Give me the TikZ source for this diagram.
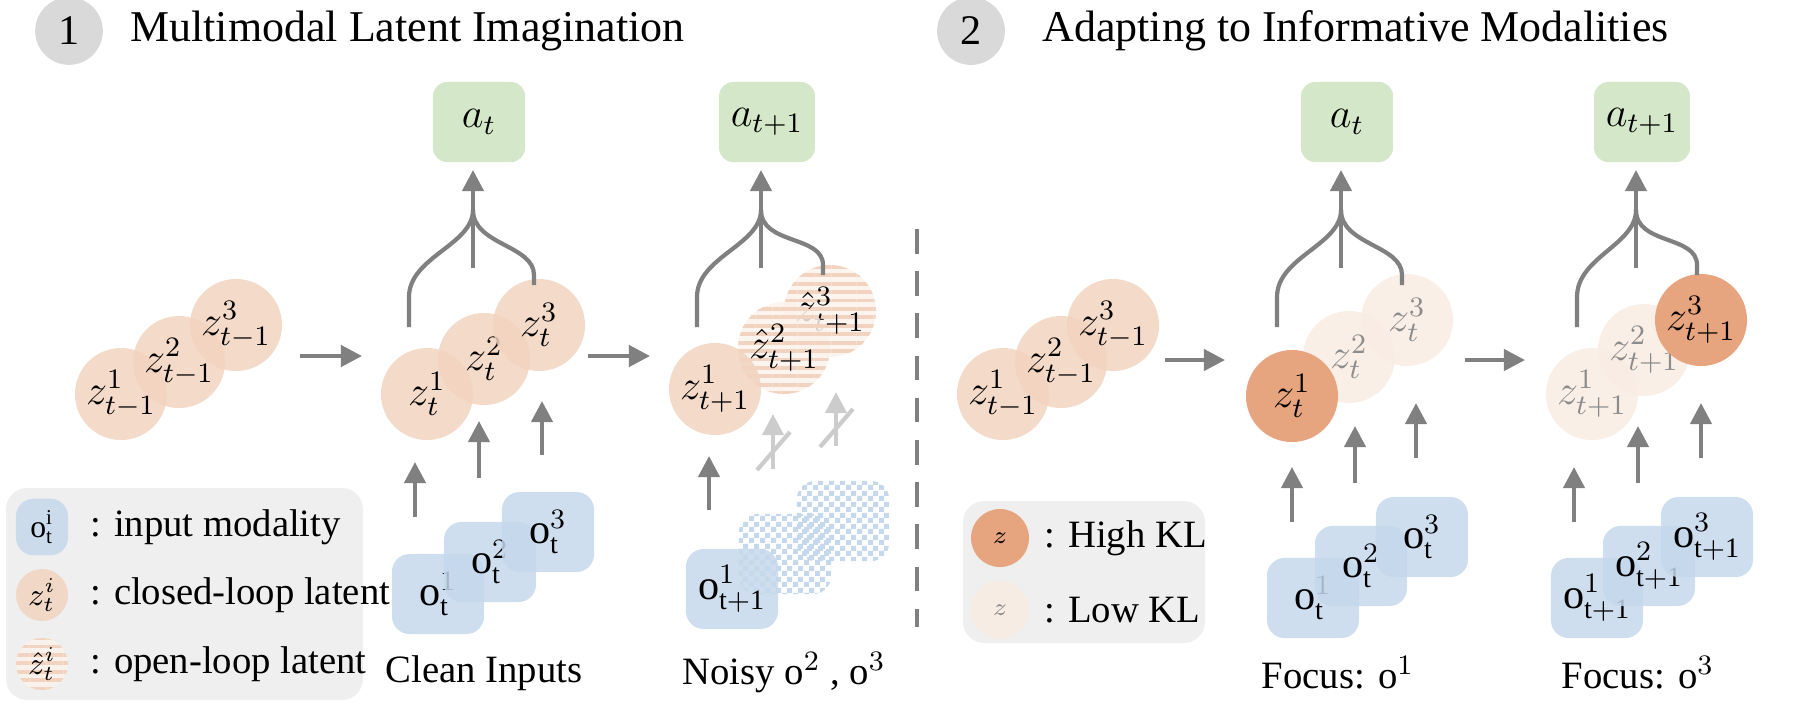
\documentclass[tikz,border=0pt]{standalone}
\usepackage{fontspec}
\setmainfont{Liberation Serif}
\usetikzlibrary{arrows.meta,patterns,patterns.meta}
\definecolor{peach}{HTML}{F2D3BF}
\definecolor{peachdark}{HTML}{E6A47F}
\definecolor{peachlight}{HTML}{F8ECE3}
\definecolor{obsblue}{HTML}{C5D8EC}
\definecolor{actgreen}{HTML}{D4E7C8}
\definecolor{arrgray}{HTML}{808080}
\definecolor{legbg}{HTML}{EFEFEF}
% small checker for noisy inputs
\pgfdeclarepatternformonly{finechecker}{\pgfpointorigin}{\pgfpoint{3pt}{3pt}}{\pgfpoint{3pt}{3pt}}{%
\pgfpathrectangle{\pgfpointorigin}{\pgfpoint{1.5pt}{1.5pt}}%
\pgfpathrectangle{\pgfpoint{1.5pt}{1.5pt}}{\pgfpoint{1.5pt}{1.5pt}}%
\pgfusepath{fill}}
% fan of three latents into one action
\newcommand\actfan[5]{%
\draw[arrgray, line width=1.2pt] (#2,#4) -- ++(0,-30) .. controls ++(0,-40) and (#1,245) .. (#1,210);
\draw[arrgray, line width=1.2pt] (#3,#5) -- ++(0,-10) .. controls ++(0,-30) and (#1,245) .. (#1,210);
\draw[upar] (#1,268) -- (#1,170);
}
\begin{document}
\begin{tikzpicture}[x=0.01cm,y=-0.01cm,
  lat/.style={circle, minimum size=0.92cm, inner sep=0pt, fill=peach, fill opacity=0.85, text opacity=1, font=\large},
  hatch/.style={lat, fill=peach!30, postaction={pattern={Lines[angle=0,distance=2.4pt,line width=1.1pt]}, pattern color=peach}},
  hikl/.style={lat, fill=peachdark, fill opacity=1},
  lokl/.style={lat, fill=peachlight, text=black!45},
  obs/.style={rounded corners=5pt, minimum width=0.92cm, minimum height=0.8cm, fill=obsblue, fill opacity=0.85, text opacity=1, font=\large},
  noisy/.style={obs, fill=white, fill opacity=1, pattern=finechecker, pattern color=obsblue},
  act/.style={rounded corners=4pt, minimum width=0.92cm, minimum height=0.8cm, fill=actgreen, font=\large},
  upar/.style={arrgray, line width=1.2pt, -{Triangle[length=6pt,width=6pt]}},
  crossar/.style={upar, arrgray!40},
  num/.style={circle, fill=black!15, minimum size=0.56cm, font=\large},
  caption/.style={font=\fontsize{11}{13}\selectfont}]
  \useasboundingbox (0,0) rectangle (1800,714);

  %% headers
  \node[num] (n1) at (69,31) {1};
  \node[anchor=west, font=\fontsize{12.5}{15}\selectfont] (t1) at (118,31) {Multimodal Latent Imagination};
  \node[num] (n2) at (971,31) {2};
  \node[anchor=west, font=\fontsize{12.5}{15}\selectfont] (t2) at (1030,31) {Adapting to Informative Modalities};
  \draw[arrgray, line width=1.2pt, dash pattern=on 7pt off 5pt] (917,229) -- (917,627);

  %% part 1, step t-1
  \node[lat] (a1) at (121,394) {$z^1_{t-1}$};
  \node[lat] (a2) at (179,362) {$z^2_{t-1}$};
  \node[lat] (a3) at (236,325) {$z^3_{t-1}$};
  \draw[upar] (300,356) -- (362,356);

  %% part 1, step t
  \node[lat] (b1) at (427,394) {$z^1_t$};
  \node[lat] (b2) at (484,359) {$z^2_t$};
  \node[lat] (b3) at (539,325) {$z^3_t$};
  \node[act] (ab) at (479,122) {$a_t$};
  \actfan{473}{409}{534}{327}{285}
  \node[obs] (ob1) at (438,594) {$\mathrm{o}^1_{\mathrm{t}}$};
  \node[obs] (ob2) at (490,562) {$\mathrm{o}^2_{\mathrm{t}}$};
  \node[obs] (ob3) at (548,532) {$\mathrm{o}^3_{\mathrm{t}}$};
  \draw[upar] (415,517) -- (415,462);
  \draw[upar] (479,478) -- (479,421);
  \draw[upar] (542,455) -- (542,401);
  \node[caption] (cb) at (484,673) {Clean Inputs};
  \draw[upar] (588,356) -- (650,356);

  %% part 1, step t+1
  \node[hatch] (c3) at (830,311) {$\hat z^3_{t+1}$};
  \node[hatch] (c2) at (784,348) {$\hat z^2_{t+1}$};
  \node[lat] (c1) at (715,389) {$z^1_{t+1}$};
  \node[act] (ac) at (767,122) {$a_{t+1}$};
  \actfan{761}{697}{823}{327}{275}
  \node[noisy] (oc3) at (843,521) {};
  \node[noisy] (oc2) at (785,554) {};
  \node[obs] (oc1) at (732,589) {$\mathrm{o}^1_{\mathrm{t+1}}$};
  \draw[upar] (709,510) -- (709,456);
  \draw[crossar] (773,469) -- (773,414);
  \draw[arrgray!40, line width=1.2pt] (757,470) -- (790,432);
  \draw[crossar] (836,446) -- (836,392);
  \draw[arrgray!40, line width=1.2pt] (820,447) -- (853,409);
  \node[caption] (cc) at (784,673) {Noisy $\mathrm{o}^2$ , $\mathrm{o}^3$};

  %% legend 1
  \fill[legbg, rounded corners=6pt] (6,488) rectangle (363,700);
  \node[obs, minimum width=0.52cm, minimum height=0.52cm, font=\small] (l1) at (42,527) {$\mathrm{o}^{\mathrm{i}}_{\mathrm{t}}$};
  \node[anchor=west, caption] (l1t) at (78,527) {: input modality};
  \node[lat, minimum size=0.52cm, font=\small] (l2) at (42,595) {$z^i_t$};
  \node[anchor=west, caption] (l2t) at (78,595) {: closed-loop latent};
  \node[hatch, minimum size=0.52cm, font=\small] (l3) at (42,664) {$\hat z^i_t$};
  \node[anchor=west, caption] (l3t) at (78,664) {: open-loop latent};

  %% part 2, step t-1
  \node[lat] (d1) at (1003,394) {$z^1_{t-1}$};
  \node[lat] (d2) at (1061,362) {$z^2_{t-1}$};
  \node[lat] (d3) at (1113,325) {$z^3_{t-1}$};
  \draw[upar] (1165,360) -- (1225,360);

  %% part 2, step t
  \node[lokl] (e3) at (1407,320) {$z^3_t$};
  \node[lokl] (e2) at (1349,357) {$z^2_t$};
  \node[hikl] (e1) at (1292,396) {$z^1_t$};
  \node[act] (ae) at (1347,122) {$a_t$};
  \actfan{1341}{1277}{1402}{327}{285}
  \node[obs] (oe1) at (1313,598) {$\mathrm{o}^1_{\mathrm{t}}$};
  \node[obs] (oe2) at (1361,566) {$\mathrm{o}^2_{\mathrm{t}}$};
  \node[obs] (oe3) at (1422,537) {$\mathrm{o}^3_{\mathrm{t}}$};
  \draw[upar] (1292,522) -- (1292,467);
  \draw[upar] (1355,483) -- (1355,426);
  \draw[upar] (1416,458) -- (1416,403);
  \node[caption] (ce) at (1338,673) {Focus: $\mathrm{o}^1$};
  \draw[upar] (1465,360) -- (1525,360);

  %% part 2, step t+1
  \node[lokl] (f1) at (1592,394) {$z^1_{t+1}$};
  \node[lokl] (f2) at (1644,350) {$z^2_{t+1}$};
  \node[hikl] (f3) at (1701,320) {$z^3_{t+1}$};
  \node[act] (af) at (1642,122) {$a_{t+1}$};
  \actfan{1636}{1577}{1697}{327}{275}
  \node[obs] (of1) at (1597,598) {$\mathrm{o}^1_{\mathrm{t+1}}$};
  \node[obs] (of2) at (1649,566) {$\mathrm{o}^2_{\mathrm{t+1}}$};
  \node[obs] (of3) at (1707,537) {$\mathrm{o}^3_{\mathrm{t+1}}$};
  \draw[upar] (1574,522) -- (1574,467);
  \draw[upar] (1638,483) -- (1638,426);
  \draw[upar] (1701,458) -- (1701,403);
  \node[caption] (cf) at (1638,673) {Focus: $\mathrm{o}^3$};

  %% legend 2
  \fill[legbg, rounded corners=6pt] (963,501) rectangle (1205,643);
  \node[hikl, minimum size=0.58cm, font=\scriptsize] (k1) at (1000,538) {$z$};
  \node[anchor=west, caption] (k1t) at (1032,538) {: High KL};
  \node[lokl, minimum size=0.58cm, font=\scriptsize] (k2) at (1000,610) {$z$};
  \node[anchor=west, caption] (k2t) at (1032,610) {: Low KL};
\end{tikzpicture}
\end{document}
